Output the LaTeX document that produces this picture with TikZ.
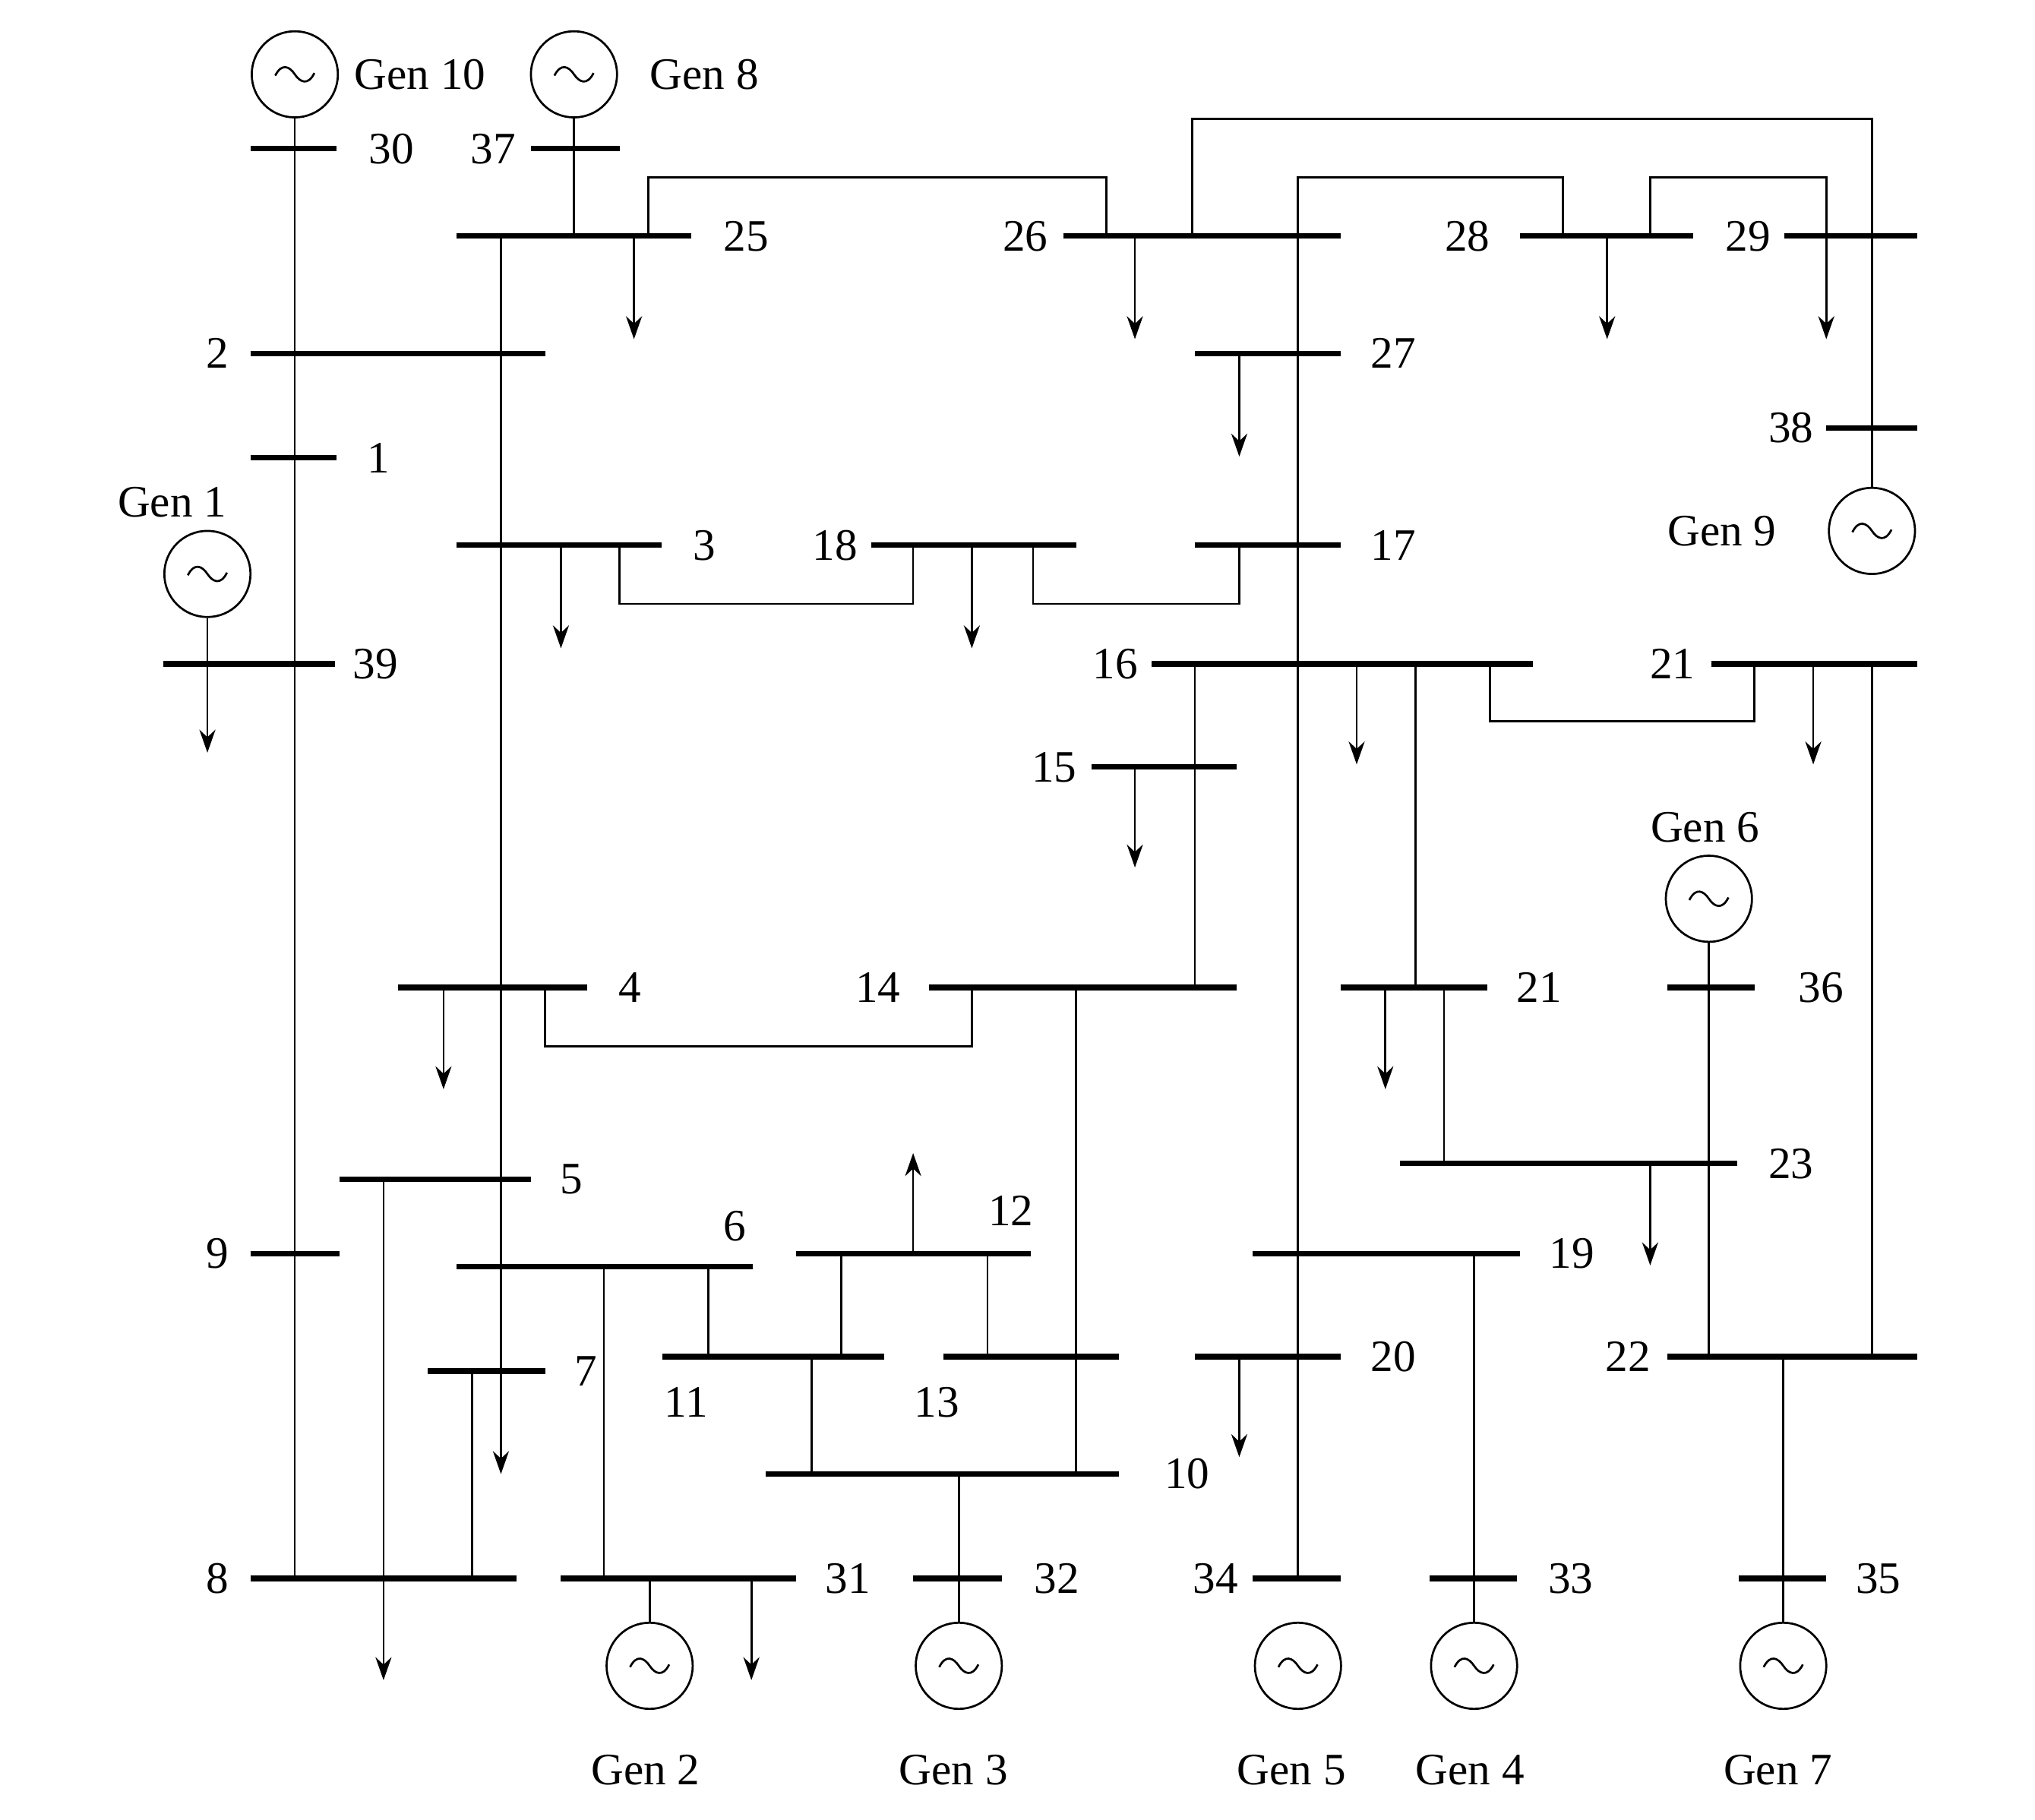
\documentclass[tikz,border=0pt]{standalone}
\usepackage{fontspec}
\setmainfont{Liberation Serif}
\usetikzlibrary{arrows.meta}
\begin{document}
\begin{tikzpicture}[x=0.01cm,y=-0.01cm,
  bus/.style={line width=1.2pt},
  ln/.style={line width=0.45pt},
  load/.style={line width=0.45pt,-{Stealth[length=5pt,width=3.5pt]}},
  gen/.style={circle,draw,line width=0.45pt,minimum size=0.66cm,inner sep=0pt},
  lbl/.style={font=\fontsize{9.8}{11}\selectfont,inner sep=0pt}]
\useasboundingbox (0,0) rectangle (1560,1395);
\newcommand\gn[3]{\node[gen] (#1) at (#2,#3) {};
  \draw[line width=0.45pt] (#2-15,#3+1) .. controls (#2-10,#3-9) and (#2-4,#3-6) .. (#2,#3) .. controls (#2+4,#3+6) and (#2+10,#3+9) .. (#2+15,#3-1);}
% generators
\gn{g10}{226}{57}\gn{g8}{440}{57}\gn{g9}{1435}{407}\gn{g1}{159}{440}\gn{g6}{1310}{689}
\gn{g2}{498}{1277}\gn{g3}{735}{1277}\gn{g5}{995}{1277}\gn{g4}{1130}{1277}\gn{g7}{1367}{1277}
% buses
\foreach \y/\a/\b in {114/192/258, 114/407/475, 181/350/530, 181/815/1028, 181/1165/1298, 181/1368/1470,
 271/192/418, 271/916/1028, 328/1400/1470, 351/192/258, 418/350/507, 418/668/825, 418/916/1028,
 509/125/257, 509/883/1175, 509/1312/1470, 588/837/948, 757/305/450, 757/712/948, 757/1028/1140,
 757/1278/1345, 892/1073/1332, 904/260/407, 961/192/260, 971/350/577, 961/610/790, 961/960/1165,
 1040/508/678, 1040/723/858, 1040/916/1028, 1040/1278/1470, 1051/328/418, 1130/587/858,
 1210/192/396, 1210/430/610, 1210/700/768, 1210/960/1028, 1210/1096/1163, 1210/1333/1400}
 \draw[bus] (\a,\y) -- (\b,\y);
% connections
\draw[ln] (g10) -- (226,1210);
\draw[ln] (g8) -- (440,181);
\draw[ln] (g9) -- (1435,91) -- (914,91) -- (914,181);
\draw[ln] (g1) -- (159,509);
\draw[ln] (497,181) -- (497,136) -- (848,136) -- (848,181);
\draw[ln] (995,1210) -- (995,136) -- (1198,136) -- (1198,181);
\draw[ln] (1265,181) -- (1265,136) -- (1400,136) -- (1400,181);
\draw[ln] (475,418) -- (475,463) -- (700,463) -- (700,418);
\draw[ln] (792,418) -- (792,463) -- (950,463) -- (950,418);
\draw[ln] (1142,509) -- (1142,553) -- (1345,553) -- (1345,509);
\draw[ln] (1435,509) -- (1435,1040);
\draw[ln] (916,509) -- (916,757);
\draw[ln] (1085,509) -- (1085,757);
\draw[ln] (g6) -- (1310,1040);
\draw[ln] (418,757) -- (418,802) -- (745,802) -- (745,757);
\draw[ln] (1107,757) -- (1107,892);
\draw[ln] (362,1051) -- (362,1210);
\draw[ln] (463,971) -- (463,1210);
\draw[ln] (543,971) -- (543,1040);
\draw[ln] (645,961) -- (645,1040);
\draw[ln] (757,961) -- (757,1040);
\draw[ln] (622,1040) -- (622,1130);
\draw[ln] (825,757) -- (825,1130);
\draw[ln] (g3) -- (735,1130);
\draw[ln] (g4) -- (1130,961);
\draw[ln] (g7) -- (1367,1040);
\draw[ln] (g2) -- (498,1210);
% loads
\draw[load] (159,509) -- (159,577);
\draw[load] (486,181) -- (486,260);
\draw[load] (870,181) -- (870,260);
\draw[load] (1232,181) -- (1232,260);
\draw[load] (1400,181) -- (1400,260);
\draw[load] (950,271) -- (950,350);
\draw[load] (430,418) -- (430,497);
\draw[load] (745,418) -- (745,497);
\draw[load] (1040,509) -- (1040,586);
\draw[load] (1390,509) -- (1390,586);
\draw[load] (870,588) -- (870,665);
\draw[load] (340,757) -- (340,835);
\draw[load] (1062,757) -- (1062,835);
\draw[load] (1265,892) -- (1265,970);
\draw[load] (700,961) -- (700,884);
\draw[load] (950,1040) -- (950,1117);
\draw[load] (384,181) -- (384,1130);
\draw[load] (294,904) -- (294,1288);
\draw[load] (576,1210) -- (576,1288);
% labels
\foreach \x/\y/\t in {300/114/30, 378/114/37, 572/181/25, 786/181/26, 1125/181/28, 1340/181/29,
 167/271/2, 1068/271/27, 1373/328/38, 290/351/1, 540/418/3, 640/418/18, 1068/418/17,
 288/509/39, 855/509/16, 1282/509/21, 808/588/15, 483/757/4, 673/757/14, 1180/757/21, 1396/757/36,
 1373/892/23, 438/904/5, 167/961/9, 563/940/6, 775/928/12, 1205/961/19, 526/1075/11, 718/1075/13,
 1068/1040/20, 1248/1040/22, 449/1051/7, 910/1130/10, 167/1210/8, 650/1210/31, 810/1210/32,
 932/1210/34, 1204/1210/33, 1440/1210/35}
 \node[lbl] at (\x,\y) {\t};
\foreach \x/\y/\t in {322/57/Gen 10, 540/57/Gen 8, 1320/407/Gen 9, 132/385/Gen 1, 1307/634/Gen 6,
 495/1357/Gen 2, 731/1357/Gen 3, 990/1357/Gen 5, 1127/1357/Gen 4, 1363/1357/Gen 7}
 \node[lbl] at (\x,\y) {\t};
\end{tikzpicture}
\end{document}
